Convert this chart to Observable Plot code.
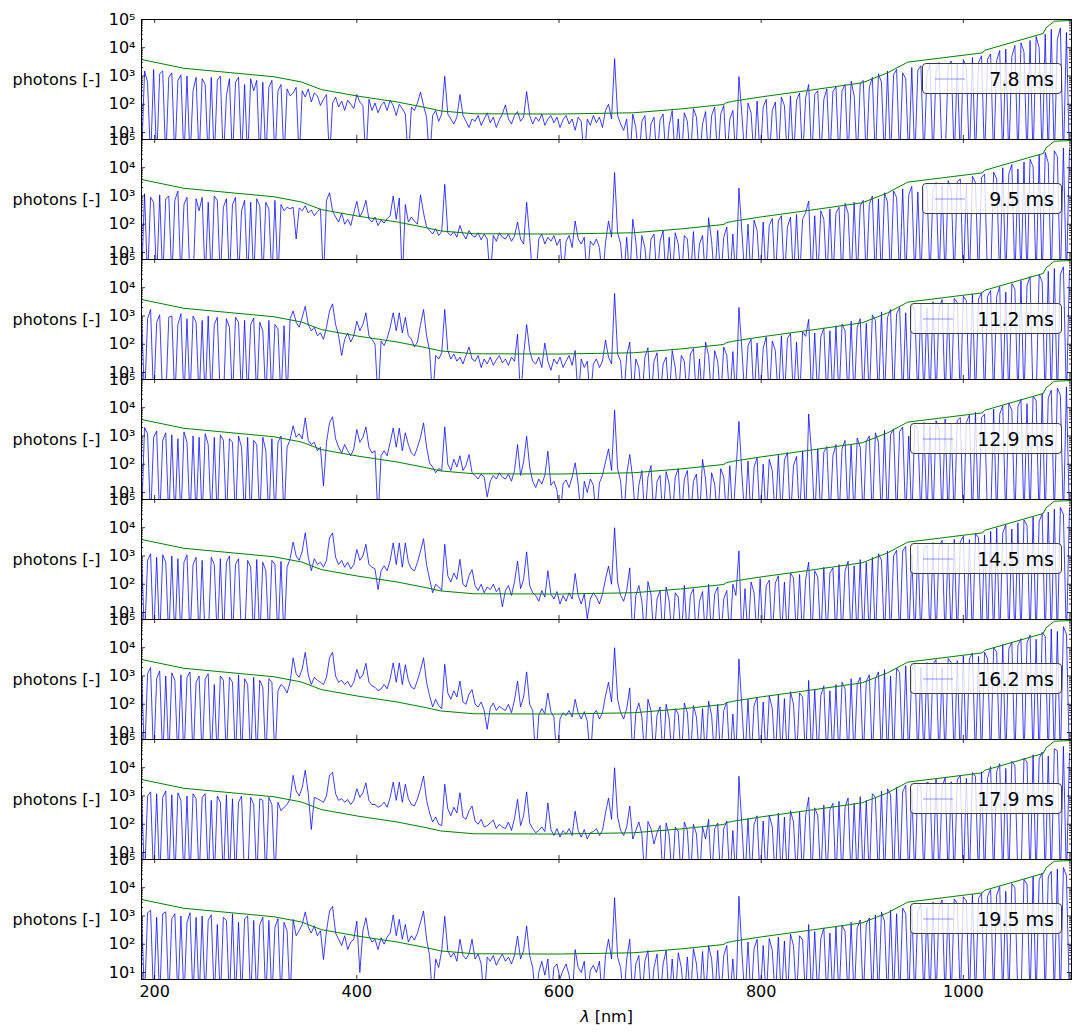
<!DOCTYPE html>
<html><head><meta charset="utf-8">
<script src="https://cdn.jsdelivr.net/npm/d3@7"></script>
<script src="https://cdn.jsdelivr.net/npm/@observablehq/plot@0.6"></script>
<style>
body{margin:0;background:#fff;}
#wrap{position:relative;width:1082px;height:1036px;font-family:"DejaVu Sans",sans-serif;}
.leg{position:absolute;right:20px;height:31px;box-sizing:border-box;border:1px solid #3c3c3c;border-radius:4px;background:rgba(255,255,255,0.8);display:flex;align-items:center;padding:0 7px 0 12px;font-size:19px;color:#000;white-space:nowrap;}
.leg svg{width:30px;height:4px;margin-right:24px;display:block;}
</style></head>
<body><div id="wrap"></div>
<script>
// ---- categories (exposure times, one panel each) ----
const panelLabels = ["7.8 ms","9.5 ms","11.2 ms","12.9 ms","14.5 ms","16.2 ms","17.9 ms","19.5 ms"];

// ---- wavelength sampling [nm] ----
const lambda = [
187,190,193,196,199,202,205,208,211,214,
217,220,223,226,229,232,235,238,241,244,
247,250,253,256,259,262,265,268,271,274,
277,280,283,286,289,292,295,298,301,304,
307,310,313,316,319,322,325,328,331,334,
337,340,343,346,349,352,355,358,361,364,
367,370,373,376,379,382,385,388,391,394,
397,400,403,406,409,412,415,418,421,424,
427,430,433,436,439,442,445,448,451,454,
457,460,463,466,469,472,475,478,481,484,
487,490,493,496,499,502,505,508,511,514,
517,520,523,526,529,532,535,538,541,544,
547,550,553,556,559,562,565,568,571,574,
577,580,583,586,589,592,595,598,601,604,
607,610,613,616,619,622,625,628,631,634,
637,640,643,646,649,652,655,658,661,664,
667,670,673,676,679,682,685,688,691,694,
697,700,703,706,709,712,715,718,721,724,
727,730,733,736,739,742,745,748,751,754,
757,760,763,766,769,772,775,778,781,784,
787,790,793,796,799,802,805,808,811,814,
817,820,823,826,829,832,835,838,841,844,
847,850,853,856,859,862,865,868,871,874,
877,880,883,886,889,892,895,898,901,904,
907,910,913,916,919,922,925,928,931,934,
937,940,943,946,949,952,955,958,961,964,
967,970,973,976,979,982,985,988,991,994,
997,1000,1003,1006,1009,1012,1015,1018,1021,1024,
1027,1030,1033,1036,1039,1042,1045,1048,1051,1054,
1057,1060,1063,1066,1069,1072,1075,1078,1081,1084,
1087,1090,1093,1096,1099,1102,1105];

// ---- photon counts per exposure (0 = no signal) ----
const photons78 = [
0,1500,600,0,1700,0,1200,1500,0,900,
1300,0,700,1100,0,1000,0,300,900,0,
800,500,0,900,0,700,1000,0,200,800,
0,600,900,0,500,0,800,300,700,0,
600,0,400,700,0,300,500,0,350,200,
250,400,0,300,180,350,120,250,200,90,
150,220,0,110,180,80,130,60,140,100,
70,220,120,90,0,150,60,110,50,90,
120,60,140,90,40,100,70,45,0,80,
60,110,270,90,35,0,40,60,25,45,
980,45,30,20,35,220,40,25,15,30,
25,40,18,30,50,22,35,15,28,45,
95,30,20,40,55,25,35,280,40,20,
35,25,45,18,30,40,22,35,15,28,
40,20,30,12,35,25,0,30,18,40,
22,35,15,60,100,30,4100,40,20,12,
30,0,45,15,0,25,40,0,20,35,
0,28,45,0,18,60,0,30,0,50,
25,0,70,35,0,20,55,0,40,80,
0,45,90,0,30,60,0,950,40,0,
110,50,0,130,0,80,150,0,60,120,
0,180,90,0,200,0,140,250,0,170,
500,0,220,300,0,150,350,0,280,420,
0,300,500,0,650,200,0,550,700,0,
400,900,0,1200,600,0,1500,0,1100,1700,
0,1300,800,0,2000,0,1600,2300,0,1200,
2600,0,1500,3000,0,0,2200,3400,0,2800,
0,3800,2000,0,4500,0,3000,5200,0,4000,
6000,0,3500,8000,0,9000,0,5000,12000,0,
15000,7000,0,18000,0,25000,10000,0,30000,0,
45000,0,20000,50000,0,35000,0];

const photons95 = [
0,1200,0,900,600,0,1100,0,800,1000,
0,700,1500,0,500,900,0,0,800,300,
900,0,600,0,1000,700,0,400,800,0,
500,900,0,300,700,0,600,0,800,450,
0,600,350,0,700,0,500,300,400,350,
400,30,380,300,450,250,320,200,280,350,
0,700,1300,300,180,120,250,100,150,90,
250,650,180,300,700,150,120,180,90,140,
110,160,200,1000,150,850,0,500,120,180,
130,100,1100,250,80,60,45,70,40,55,
2600,50,40,55,35,90,45,30,60,40,
35,50,28,45,30,0,40,25,50,35,
30,45,25,38,120,30,20,600,35,0,
0,30,45,20,35,25,40,18,30,0,
25,40,15,130,30,20,35,0,25,18,
30,15,0,22,130,35,6800,50,20,0,
35,0,150,25,0,40,15,0,30,45,
0,25,60,0,35,0,50,20,0,40,
30,0,55,0,20,40,0,170,25,0,
60,0,35,80,0,45,0,1900,50,0,
100,0,140,60,0,120,0,90,160,0,
130,200,0,80,180,0,220,0,150,260,
660,0,200,0,300,150,0,350,0,250,
400,0,550,250,0,600,0,450,700,0,
500,1000,0,800,0,1300,600,0,1500,900,
0,1800,0,1100,2200,0,1400,0,2000,2500,
0,1600,3000,0,2400,0,3500,1800,0,3200,
4000,0,2500,0,5000,3000,0,4500,6000,0,
0,7000,4000,0,10000,0,6000,13000,0,9000,
0,16000,0,20000,11000,0,28000,0,35000,15000,
0,40000,25000,0,50000,0,45000];

const photons112 = [
1300,0,800,1700,0,600,1100,0,0,900,
1000,0,500,1200,0,800,0,1000,600,0,
700,0,1000,0,500,900,0,0,800,400,
0,900,600,0,700,0,500,850,0,600,
300,0,700,0,500,350,0,450,0,800,
1500,600,400,900,2200,500,300,400,200,250,
150,400,1500,2700,500,200,40,150,250,120,
200,660,300,500,1300,200,150,100,0,130,
90,160,400,1300,300,1300,250,900,200,150,
80,120,500,1700,200,60,0,40,30,50,
1700,60,30,45,25,35,20,40,80,30,
25,40,15,30,20,35,18,28,40,22,
30,18,35,25,230,0,40,500,60,25,
20,35,15,110,25,12,30,20,35,15,
25,40,18,60,0,30,15,25,0,20,
30,15,25,140,35,20,6300,45,25,0,
40,120,0,30,15,0,35,75,0,25,
50,0,20,35,0,60,15,0,40,25,
0,45,70,0,30,0,120,40,0,60,
25,0,80,40,0,55,0,2000,60,0,
90,150,0,110,0,70,180,0,130,60,
0,200,0,160,240,0,120,0,280,190,
760,0,250,0,180,380,0,300,0,450,
0,520,300,0,650,0,400,800,0,550,
0,1100,700,0,1400,0,900,1700,0,1200,
2000,0,1300,0,2400,1600,0,2800,0,1900,
0,3200,0,2000,3800,0,2600,0,4200,3000,
0,5000,3500,0,6000,0,4000,6500,0,5000,
8000,0,5000,11000,0,7000,0,14000,9000,0,
18000,0,12000,25000,0,0,30000,16000,0,38000,
0,48000,0,30000,55000,0,40000];

const photons129 = [
0,2000,1200,0,900,1500,0,700,1300,0,
1100,0,800,0,1400,600,0,1000,0,900,
0,1200,500,0,900,0,1100,700,0,800,
600,0,1000,400,0,900,0,700,500,0,
900,300,0,800,0,600,1000,0,400,760,
2300,900,1200,800,4400,700,500,600,300,400,
17,600,2900,4800,800,400,250,500,300,200,
350,1700,600,900,2100,400,250,300,0,200,
300,200,600,1900,400,1900,300,1300,500,250,
200,400,900,2900,400,110,80,50,70,60,
2100,100,60,150,80,200,60,90,220,50,
40,30,45,35,7,25,40,30,50,35,
30,45,25,60,500,40,120,980,80,25,
15,30,20,40,290,18,25,12,0,20,
28,15,35,112,20,0,25,10,30,18,
0,22,40,120,350,60,8200,70,25,0,
45,220,30,0,18,60,0,35,90,0,
25,40,0,55,20,0,35,70,0,30,
60,0,25,45,0,150,30,0,50,20,
0,70,35,0,90,0,50,3300,40,0,
130,0,80,170,0,100,0,150,60,0,
210,0,140,260,0,90,190,0,300,0,
6000,200,0,350,0,270,420,0,200,500,
0,350,700,0,500,0,850,400,0,650,
1000,0,1300,600,0,1600,0,1100,1800,0,
1400,2100,0,1000,0,2500,1700,0,3000,0,
2400,0,3500,1800,0,4000,0,2800,0,3600,
4500,0,3000,5500,0,7000,0,4500,6000,0,
0,9000,0,6000,12000,0,15000,8000,0,11000,
20000,0,14000,0,26000,18000,0,32000,0,22000,
42000,0,50000,28000,0,55000,0];

const photons145 = [
1500,0,700,1200,0,900,0,1100,600,0,
1000,0,800,0,600,1100,0,500,900,0,
700,0,0,900,500,0,800,0,600,1000,
0,500,800,0,0,700,400,0,750,0,
600,300,0,700,500,0,650,0,400,800,
3100,1000,700,1500,6600,900,300,800,500,600,
400,700,4400,6600,900,500,700,400,600,350,
500,1700,700,1000,2600,500,400,350,65,300,
450,300,700,2900,500,2900,400,2900,600,350,
300,600,1500,4100,500,150,50,100,80,60,
2600,200,120,250,150,760,100,80,200,330,
90,60,100,50,80,65,100,55,75,16,
60,90,40,120,660,70,150,1400,90,50,
40,25,60,35,300,45,30,55,20,40,
25,50,30,240,40,20,45,6,30,50,
35,20,45,150,440,100,10000,120,40,25,
60,380,0,40,90,25,0,125,45,0,
30,60,0,80,25,0,50,35,0,90,
0,40,70,0,25,55,0,100,0,45,
80,0,30,60,0,100,40,1500,0,70,
0,120,50,0,160,0,90,140,0,110,
200,0,120,0,250,170,0,220,0,150,
600,0,300,180,0,400,0,250,380,0,
500,0,300,650,0,450,0,750,0,600,
0,900,0,1200,700,0,1500,0,1000,1600,
0,1500,2200,0,1200,0,2600,0,1800,2400,
0,3000,0,2200,3600,0,2500,0,3900,0,
3200,5000,0,3800,0,6200,4500,0,5500,0,
7500,0,10000,0,6500,13000,0,9000,0,15000,
0,19000,12000,0,24000,0,17000,30000,0,36000,
0,45000,0,52000,30000,0,48000];

const photons162 = [
1800,0,1200,2000,0,800,1500,0,1000,0,
1300,700,0,1100,0,900,1400,0,600,1000,
0,800,1200,0,500,0,1000,700,0,900,
600,0,1100,0,800,500,0,900,0,700,
400,0,800,600,0,300,500,400,250,600,
4400,1200,900,1800,6900,1100,500,900,700,600,
500,900,4400,6900,1000,600,700,500,650,400,
600,1700,800,1100,2800,600,450,400,300,350,
500,350,800,2900,600,2900,500,2500,700,400,
350,700,1600,4400,600,200,80,150,90,70,
2600,250,150,300,180,660,120,100,230,330,
100,80,120,60,13,75,110,60,85,70,
60,100,50,140,660,80,180,1400,100,60,
0,40,70,45,250,55,35,0,30,50,
40,60,35,150,50,30,55,25,0,45,
60,30,50,200,600,120,10000,150,50,30,
70,380,0,50,110,35,0,150,60,0,
40,80,0,100,30,0,70,45,0,110,
50,0,90,35,0,70,0,130,40,0,
100,0,60,120,0,45,0,4000,70,0,
150,0,90,180,0,120,0,200,70,0,
230,0,160,0,280,100,0,250,180,0,
700,0,350,0,200,450,0,300,0,500,
0,600,350,0,800,0,500,900,0,650,
1100,0,800,1400,0,1700,0,1000,0,1900,
1300,0,2300,0,1600,2800,0,2000,0,3000,
0,2600,3800,0,2000,0,4200,3000,0,3500,
0,5200,0,4000,6500,0,5000,0,7000,4000,
0,10000,7000,0,13000,0,9000,16000,0,12000,
21000,0,15000,28000,0,20000,0,35000,25000,0,
46000,0,38000,0,56000,30000,0];

const photons179 = [
1600,0,1000,1400,0,1200,0,900,1500,0,
1100,0,1300,700,0,1000,0,1200,800,0,
900,1200,0,700,0,1000,600,0,1100,0,
800,0,600,1000,0,0,900,500,0,800,
700,0,900,500,0,600,300,400,500,800,
5400,1500,1000,2000,8200,1200,65,900,800,700,
600,1000,5400,6900,1200,700,800,600,750,500,
700,1800,900,1300,2900,700,500,500,400,450,
600,400,900,3100,700,3100,600,2600,800,500,
450,800,1800,5100,700,250,120,180,100,90,
2600,350,200,400,250,1300,180,150,300,440,
130,100,150,80,90,110,140,70,100,80,
70,120,60,160,760,90,200,1400,110,70,
50,60,80,55,570,65,40,70,35,60,
45,70,40,290,60,35,65,30,50,55,
70,40,60,250,850,150,10000,180,60,40,
80,440,30,60,120,45,0,125,70,20,
50,90,0,110,40,0,80,55,0,120,
60,0,100,45,0,80,30,150,0,70,
110,0,70,130,0,60,0,5000,80,0,
160,0,100,200,0,130,0,210,80,0,
250,0,180,0,300,120,0,270,0,200,
900,0,380,200,0,480,0,330,550,0,
650,0,400,850,0,550,0,950,0,700,
0,1200,900,0,1500,0,1800,1100,0,2000,
0,1400,2400,0,1700,0,2900,2100,0,3100,
2700,0,4000,0,2200,4400,0,3200,0,3700,
5400,0,4200,0,6800,5000,0,7200,0,4200,
11000,0,7500,14000,0,9500,0,17000,12000,0,
0,22000,16000,0,29000,0,21000,36000,0,26000,
0,47000,40000,0,57000,0,32000];

const photons195 = [
1700,0,1300,1600,0,900,0,1200,1400,0,
800,1200,0,1000,0,600,1300,0,900,0,
1000,0,700,1100,0,500,0,900,700,0,
1200,0,600,0,800,1000,0,700,0,500,
900,0,700,0,400,800,0,600,300,0,
760,200,300,500,1400,400,250,450,200,300,
29,300,1500,2200,250,150,90,200,65,120,
150,660,10,300,870,200,120,150,65,170,
100,180,250,1100,200,760,150,500,120,200,
140,250,600,1500,150,40,0,30,15,60,
980,60,35,50,25,150,40,30,45,150,
30,45,20,0,35,25,40,18,30,45,
25,35,20,40,195,30,60,440,40,15,
0,10,25,8,30,0,15,20,6,12,
20,8,0,65,15,10,25,0,12,18,
10,25,0,40,150,30,4400,35,15,0,
30,150,0,20,40,0,25,60,0,15,
45,0,20,60,0,30,0,50,15,0,
35,0,70,20,0,55,0,90,30,0,
60,0,40,90,0,30,0,5000,50,0,
120,0,70,150,0,90,0,160,60,0,
180,0,130,0,230,90,0,200,140,0,
500,0,280,0,160,380,0,250,0,420,
0,480,280,0,600,0,380,720,0,520,
850,0,1100,0,1400,650,0,1600,0,1200,
0,1900,1200,0,2300,0,1500,2600,0,2000,
0,3100,0,2200,3700,0,2600,0,4000,2800,
0,4800,3400,0,5800,0,4200,6300,0,5100,
8500,0,5500,11000,0,7500,0,14000,10000,0,
0,20000,13000,0,26000,0,19000,33000,0,24000,
38000,0,46000,0,52000,27000,0];

// ---- detection threshold (green curve) ----
const thresholdLambda = [187,229,318,345,365,401,440,469,483,516,600,674,720,763,766,773,800,849,900,925,945,1019,1021,1079,1082,1090,1107];
const thresholdPhotons = [3840,1870,940,617,330,194,120,75,58,46,45,50,68,98,115,129,182,316,575,1290,3100,6600,8100,32000,51000,87000,92000];

// ---- axis ticks ----
const xTicks = [200,400,600,800,1000];
const yTicks = [10,100,1000,10000,100000];
const yTickLabels = ["10¹","10²","10³","10⁴","10⁵"];
const yMinorTicks = [6,7,8,9,20,30,40,50,60,70,80,90,200,300,400,500,600,700,800,900,
  2000,3000,4000,5000,6000,7000,8000,9000,20000,30000,40000,50000,60000,70000,80000,90000];

// ---- build tables ----
const series = [photons78,photons95,photons112,photons129,photons145,photons162,photons179,photons195];
const spectra = [];
series.forEach((s, k) => {
  const n = Math.min(s.length, lambda.length);
  for (let i = 0; i < n; i++) spectra.push({lam: lambda[i], v: s[i], panel: panelLabels[k]});
});
const threshold = thresholdLambda.map((l, i) => ({lam: l, v: thresholdPhotons[i]}));

const W = 1082, H = 1036, mL = 141, mR = 11, mT = 19, mB = 57;
const frameW = W - mL - mR;
const panelH = (H - mT - mB) / panelLabels.length;

const chart = Plot.plot({
  width: W, height: H,
  marginTop: mT, marginBottom: mB, marginLeft: mL, marginRight: mR,
  style: {fontFamily: "'DejaVu Sans', sans-serif", fontSize: "16px", background: "white", color: "black", overflow: "visible"},
  x: {domain: [187, 1107]},
  y: {type: "log", domain: [5.65, 1e5]},
  fy: {domain: panelLabels, padding: 0, axis: null},
  marks: [
    Plot.lineY(spectra, {x: "lam", y: d => d.v > 0 ? d.v : 1, fy: "panel", stroke: "blue", strokeOpacity: 0.75, strokeWidth: 1, clip: true}),
    Plot.line(threshold, {x: "lam", y: "v", stroke: "green", strokeWidth: 1, clip: true}),
    Plot.tickY(yTicks, {y: d => d, insetRight: frameW - 4, stroke: "black", strokeWidth: 0.8}),
    Plot.tickY(yTicks, {y: d => d, insetLeft: frameW - 4, stroke: "black", strokeWidth: 0.8}),
    Plot.tickY(yMinorTicks, {y: d => d, insetRight: frameW - 2, stroke: "black", strokeWidth: 0.8}),
    Plot.tickY(yMinorTicks, {y: d => d, insetLeft: frameW - 2, stroke: "black", strokeWidth: 0.8}),
    Plot.tickX(xTicks, {x: d => d, insetTop: panelH - 4, stroke: "black", strokeWidth: 0.8}),
    Plot.tickX(xTicks, {x: d => d, insetBottom: panelH - 4, stroke: "black", strokeWidth: 0.8}),
    Plot.frame({stroke: "black", strokeWidth: 1}),
    Plot.axisY({ticks: yTicks, tickFormat: d => yTickLabels[yTicks.indexOf(d)], tickSize: 0, tickPadding: 6, fontSize: 16, label: null}),
    Plot.axisX({ticks: xTicks, tickFormat: d => String(d), tickSize: 0, tickPadding: 6, fontSize: 16, label: "λ [nm]", labelAnchor: "center", labelOffset: 42, labelArrow: "none"}),
    Plot.text(["photons [-]"], {text: d => d, frameAnchor: "left", dx: -41, textAnchor: "end", fontSize: 16})
  ]
});

const wrap = document.getElementById("wrap");
wrap.appendChild(chart);

// italic lambda in x label
d3.select(chart).selectAll("text").filter(function(){ return this.textContent === "λ [nm]"; }).each(function(){
  const t = d3.select(this);
  t.text(null);
  t.append("tspan").attr("font-style", "italic").text("λ");
  t.append("tspan").text(" [nm]");
});

// legends (one per panel)
panelLabels.forEach((lab, k) => {
  const div = document.createElement("div");
  div.className = "leg";
  div.style.top = (mT + panelH * k + 44) + "px";
  div.innerHTML = '<svg viewBox="0 0 30 4"><line x1="0" y1="2" x2="30" y2="2" stroke="blue" stroke-opacity="0.35" stroke-width="1.2"/></svg><span>' + lab + '</span>';
  wrap.appendChild(div);
});
</script></body></html>
